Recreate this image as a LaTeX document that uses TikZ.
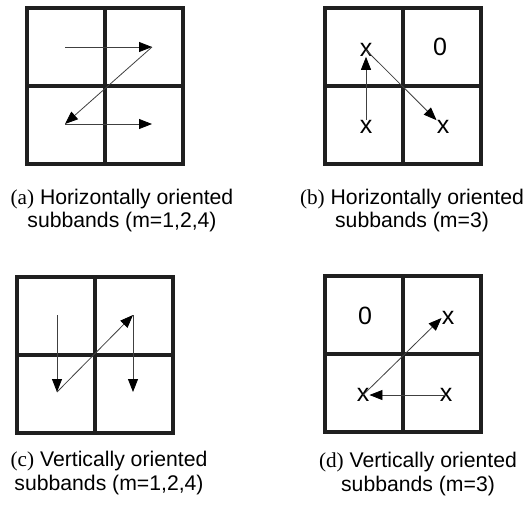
\documentclass[tikz,border=0pt]{standalone}
\usepackage{fontspec}
\setmainfont{Liberation Sans}
\newfontfamily\serifcap{Liberation Serif}
\usetikzlibrary{arrows.meta}

\begin{document}
\begin{tikzpicture}[x=1pt,y=-1pt,
 cell/.style={draw=black!88,line width=4.3pt},
 scan/.style={draw=black!75,line width=0.8pt,-{Triangle[length=13pt,width=10pt,color=black]}},
 coef/.style={font=\fontsize{25}{25}\selectfont,inner sep=0pt},
 subcap/.style={font=\fontsize{21.2}{22}\selectfont,anchor=base,inner sep=0pt}]
\useasboundingbox (0,0) rectangle (526,515);
% the four 2x2 subband grids
\foreach \gx/\gy in {27/8,325/8,17/277,325/276}{
 \draw[cell] (\gx,\gy) rectangle ++(156,156);
 \draw[cell] (\gx+78,\gy) -- ++(0,156);
 \draw[cell] (\gx,\gy+78) -- ++(156,0);
}
% (a) horizontal scan
\coordinate (a1) at (65,47);
\coordinate (a2) at (152,47);
\coordinate (a3) at (65,124);
\coordinate (a4) at (152,124);
\draw[scan] (a1)--(a2);
\draw[scan] (a2)--(a3);
\draw[scan] (a3)--(a4);
% (b) m=3
\node[coef] (bTL) at (366,50) {x};
\node[coef] (bZ) at (440,47) {0};
\node[coef] (bBL) at (366,127) {x};
\node[coef] (bBR) at (443,127) {x};
\draw[scan] (bBL.north)--(bTL.south);
\draw[scan] (bTL.center)--(bBR.north west);
% (c) vertical scan
\coordinate (c1) at (57,315);
\coordinate (c2) at (57,392);
\coordinate (c3) at (133,315);
\coordinate (c4) at (133,392);
\draw[scan] (c1)--(c2);
\draw[scan] (c2)--(c3);
\draw[scan] (c3)--(c4);
% (d) m=3
\node[coef] (dZ) at (365,316) {0};
\node[coef] (dTR) at (448,318) {x};
\node[coef] (dBL) at (363,395) {x};
\node[coef] (dBR) at (446,395) {x};
\draw[scan] (dBL.center)--(dTR.west);
\draw[scan] (dBR.center)--(dBL.east);
% captions
\node[subcap] (capA1) at (122,204) {{\serifcap(a)} Horizontally oriented};
\node[subcap] (capA2) at (122,227) {subbands (m=1,2,4)};
\node[subcap] (capB1) at (412,204) {{\serifcap(b)} Horizontally oriented};
\node[subcap] (capB2) at (412,227) {subbands (m=3)};
\node[subcap] (capC1) at (109,466) {{\serifcap(c)} Vertically oriented};
\node[subcap] (capC2) at (109,490) {subbands (m=1,2,4)};
\node[subcap] (capD1) at (418,467) {{\serifcap(d)} Vertically oriented};
\node[subcap] (capD2) at (418,491) {subbands (m=3)};
\end{tikzpicture}
\end{document}
